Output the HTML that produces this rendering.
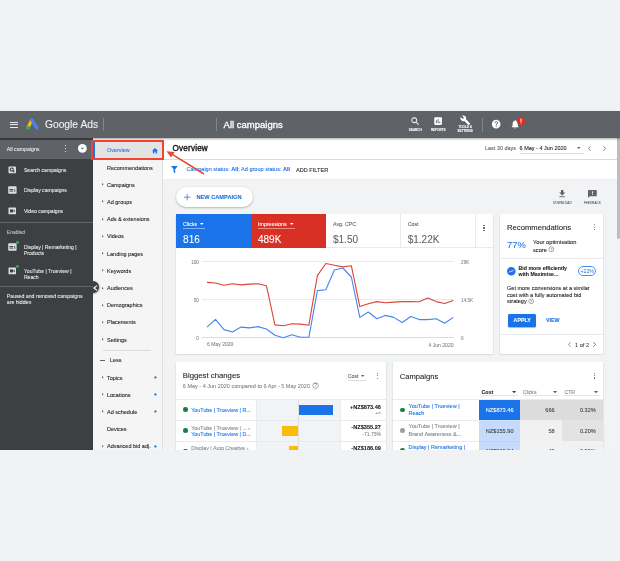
<!DOCTYPE html>
<html><head><meta charset="utf-8"><style>
html,body{margin:0;padding:0}
body{width:620px;height:561px;overflow:hidden;background:#f1f2f4;position:relative;font-family:"Liberation Sans",sans-serif}
body>div,body>svg,#app>div,#app>svg{position:absolute}
.t{white-space:nowrap;line-height:1;-webkit-text-stroke-width:0.08px}
svg{overflow:visible}
#app{position:absolute;left:0;top:0;width:620px;height:450.2px;overflow:hidden;will-change:transform}
</style></head><body><div id="app">
<div style="left:162.6px;top:137.7px;width:454.00px;height:312.60px;background:#f1f3f4"></div>
<div style="left:162.6px;top:137.7px;width:454.00px;height:21.60px;background:#fff"></div>
<div style="left:162.6px;top:159.3px;width:454.00px;height:0.60px;background:#dadce0"></div>
<div style="left:162.6px;top:159.9px;width:454.00px;height:18.90px;background:#fff"></div>
<div style="left:162.6px;top:178.8px;width:454.00px;height:0.80px;background:linear-gradient(#eaebed,#f1f3f4)"></div>
<div class="t" style="left:172.6px;top:145.33px;font-size:8.15px;color:#202124;-webkit-text-stroke:0.4px #202124;letter-spacing:0.18px">Overview</div>
<div class="t" style="left:485px;top:145.86px;font-size:5.47px;color:#5f6368;">Last 30 days</div>
<div class="t" style="left:519.6px;top:145.84px;font-size:5.51px;color:#202124;">6 May - 4 Jun 2020</div>
<div style="left:519.6px;top:153.4px;width:64.10px;height:0.50px;background:#dadce0"></div>
<svg style="left:577.2px;top:147px" width="3.6" height="2" viewBox="0 0 3.6 2"><path d="M0 0 H3.6 L1.8 2Z" fill="#5f6368"/></svg>
<svg style="left:587.8px;top:145.6px" width="3" height="5" viewBox="0 0 3 5"><path d="M2.6 0.3 L0.5 2.5 L2.6 4.7" fill="none" stroke="#5f6368" stroke-width="0.8"/></svg>
<svg style="left:603px;top:145.6px" width="3" height="5" viewBox="0 0 3 5"><path d="M0.4 0.3 L2.5 2.5 L0.4 4.7" fill="none" stroke="#5f6368" stroke-width="0.8"/></svg>
<svg style="left:171.4px;top:165.7px" width="6.8" height="7.2" viewBox="0 0 6.8 7.2"><path d="M0 0 H6.8 L4.2 3.2 V7.2 L2.6 6.2 V3.2Z" fill="#1a73e8"/></svg>
<div class="t" style="left:186.5px;top:167.03px;font-size:5.55px;color:#1a73e8;">Campaign status: <b>All</b>; Ad group status: <b>All</b></div>
<div class="t" style="left:296px;top:167.50px;font-size:5.6px;color:#3c4043;-webkit-text-stroke:0.15px #3c4043">ADD FILTER</div>
<div style="left:616.5px;top:137.7px;width:3.50px;height:312.80px;background:#f1f3f4"></div>
<div style="left:616.5px;top:137.7px;width:0.70px;height:41.30px;background:#ececec"></div>
<div style="left:616.9px;top:137.9px;width:3.10px;height:101.40px;background:#bdbdbd;border-radius:0 0 1.5px 1.5px"></div>
<div style="left:175.9px;top:187px;width:76.9px;height:19.7px;border-radius:10px;background:#fff;box-shadow:0 0.8px 2px rgba(60,64,67,.4)"></div>
<svg style="left:184.3px;top:193.6px" width="6.4" height="6.4" viewBox="0 0 6.4 6.4"><path d="M3.2 0 V6.4 M0 3.2 H6.4" stroke="#1a73e8" stroke-width="0.75"/></svg>
<div class="t" style="left:196.5px;top:194.78px;font-size:5.65px;color:#1a73e8;font-weight:bold">NEW CAMPAIGN</div>
<svg style="left:559.4px;top:190.3px" width="6.4" height="7.2" viewBox="0 0 6.4 7.2"><path d="M2 0 H4.4 V2.6 H6.2 L3.2 5.4 L0.2 2.6 H2Z" fill="#5f6368"/><rect x="0.4" y="6.3" width="5.6" height="0.9" fill="#5f6368"/></svg>
<div class="t" style="left:512.30px;width:100px;text-align:center;top:201.50px;font-size:3.2px;color:#5f6368;">DOWNLOAD</div>
<svg style="left:588px;top:189.7px" width="8.8" height="7.8" viewBox="0 0 8.8 7.8"><path d="M0.8 0 H8 Q8.8 0 8.8 0.8 V5.4 Q8.8 6.2 8 6.2 H2 L0 7.8 V0.8 Q0 0 0.8 0Z" fill="#5f6368"/><rect x="3.95" y="1.2" width="0.9" height="2.4" fill="#fff"/><rect x="3.95" y="4.2" width="0.9" height="0.9" fill="#fff"/></svg>
<div class="t" style="left:542.40px;width:100px;text-align:center;top:201.50px;font-size:3.2px;color:#5f6368;">FEEDBACK</div>
<div style="left:175.9px;top:213.7px;width:317.40px;height:140.80px;background:#fff;box-shadow:0 0.5px 1.5px rgba(60,64,67,.3)"></div>
<div style="left:175.9px;top:213.7px;width:74.80px;height:33.90px;background:#1a73e8"></div>
<div style="left:250.7px;top:213.7px;width:75.10px;height:33.90px;background:#d93025"></div>
<div style="left:400.4px;top:213.7px;width:0.60px;height:33.90px;background:#e8eaed"></div>
<div style="left:475.0px;top:213.7px;width:0.60px;height:33.90px;background:#e8eaed"></div>
<div style="left:325.8px;top:247.2px;width:167.50px;height:0.60px;background:#e8eaed"></div>
<div class="t" style="left:183.1px;top:222.25px;font-size:5.3px;color:#fff;">Clicks</div>
<svg style="left:199.6px;top:223.4px" width="3.6" height="2" viewBox="0 0 3.6 2"><path d="M0 0 H3.6 L1.8 2Z" fill="#fff"/></svg>
<div style="left:183.1px;top:228.1px;width:21.70px;height:0.45px;background:rgba(255,255,255,.45)"></div>
<div class="t" style="left:183.1px;top:235.30px;font-size:10.0px;color:#fff;">816</div>
<div class="t" style="left:258px;top:222.25px;font-size:5.3px;color:#fff;">Impressions</div>
<svg style="left:290.3px;top:223.4px" width="3.6" height="2" viewBox="0 0 3.6 2"><path d="M0 0 H3.6 L1.8 2Z" fill="#fff"/></svg>
<div style="left:258px;top:228.1px;width:37.20px;height:0.45px;background:rgba(255,255,255,.45)"></div>
<div class="t" style="left:258px;top:235.30px;font-size:10.0px;color:#fff;">489K</div>
<div class="t" style="left:333px;top:222.25px;font-size:5.3px;color:#5f6368;">Avg. CPC</div>
<div class="t" style="left:333px;top:234.70px;font-size:10.0px;color:#5f6368;">$1.50</div>
<div class="t" style="left:407.7px;top:222.25px;font-size:5.3px;color:#5f6368;">Cost</div>
<div class="t" style="left:407.7px;top:234.70px;font-size:10.0px;color:#5f6368;">$1.22K</div>
<div style="left:483.4px;top:225.00px;width:1.2px;height:1.2px;border-radius:50%;background:#5f6368"></div>
<div style="left:483.4px;top:227.40px;width:1.2px;height:1.2px;border-radius:50%;background:#5f6368"></div>
<div style="left:483.4px;top:229.80px;width:1.2px;height:1.2px;border-radius:50%;background:#5f6368"></div>
<div style="left:201.5px;top:261.2px;width:252.50px;height:0.60px;background:#ebebeb"></div>
<div style="left:201.5px;top:299.09999999999997px;width:252.50px;height:0.60px;background:#ebebeb"></div>
<div style="left:201.5px;top:337.1px;width:252.50px;height:0.60px;background:#dadce0"></div>
<div class="t" style="right:421.20px;top:260.70px;font-size:4.6px;color:#80868b;">100</div>
<div class="t" style="right:421.20px;top:298.60px;font-size:4.6px;color:#80868b;">50</div>
<div class="t" style="right:421.20px;top:336.60px;font-size:4.6px;color:#80868b;">0</div>
<div class="t" style="left:461.1px;top:261.10px;font-size:4.6px;color:#80868b;">29K</div>
<div class="t" style="left:461.1px;top:298.70px;font-size:4.6px;color:#80868b;">14.5K</div>
<div class="t" style="left:461.1px;top:336.50px;font-size:4.6px;color:#80868b;">0</div>
<div class="t" style="left:207px;top:342.48px;font-size:5.05px;color:#80868b;">6 May 2020</div>
<div class="t" style="right:166.50px;top:342.88px;font-size:5.05px;color:#80868b;">4 Jun 2020</div>
<svg style="left:0;top:0" width="620" height="561"><polyline points="207.00,282.40 215.49,283.00 223.98,285.20 232.47,283.80 240.96,284.90 249.45,284.10 257.94,283.80 266.43,285.70 274.92,324.90 283.41,325.70 291.90,323.80 300.39,324.10 308.88,325.20 317.37,275.60 325.86,263.50 334.35,265.20 342.84,266.90 351.33,265.70 359.82,306.60 368.31,303.80 376.80,301.60 385.29,302.70 393.78,302.10 402.27,301.60 410.76,301.60 419.25,301.80 427.74,297.90 436.23,301.60 444.72,303.50 453.21,300.40" fill="none" stroke="#db4437" stroke-width="1.1" stroke-linejoin="round"/><polyline points="207.00,327.10 215.49,319.40 223.98,329.60 232.47,332.00 240.96,327.10 249.45,327.90 257.94,326.60 266.43,329.00 274.92,335.30 283.41,337.80 291.90,334.80 300.39,337.30 308.88,337.30 317.37,290.60 325.86,289.80 334.35,270.00 342.84,268.00 351.33,277.00 359.82,317.40 368.31,312.00 376.80,318.80 385.29,315.40 393.78,317.40 402.27,322.50 410.76,316.50 419.25,319.60 427.74,319.60 436.23,318.80 444.72,323.30 453.21,317.40" fill="none" stroke="#4285f4" stroke-width="1.1" stroke-linejoin="round"/></svg>
<div style="left:499.7px;top:213.9px;width:103.50px;height:140.60px;background:#fff;box-shadow:0 0.5px 1.5px rgba(60,64,67,.3)"></div>
<div class="t" style="left:507px;top:223.65px;font-size:7.7px;color:#202124;">Recommendations</div>
<div style="left:593.5px;top:224.10px;width:1.2px;height:1.2px;border-radius:50%;background:#5f6368"></div>
<div style="left:593.5px;top:226.60px;width:1.2px;height:1.2px;border-radius:50%;background:#5f6368"></div>
<div style="left:593.5px;top:229.10px;width:1.2px;height:1.2px;border-radius:50%;background:#5f6368"></div>
<div class="t" style="left:507px;top:240.10px;font-size:9.4px;color:#1a73e8;">77%</div>
<div class="t" style="left:533px;top:240.05px;font-size:5.7px;color:#202124;">Your optimisation</div>
<div class="t" style="left:533px;top:248.05px;font-size:5.7px;color:#202124;">score</div>
<svg style="left:548.10px;top:246.00px" width="6.60" height="6.60" viewBox="-3.30 -3.30 6.60 6.60"><circle cx="0" cy="0" r="2.50" fill="none" stroke="#5f6368" stroke-width="0.55"/><text x="0" y="1.54" font-size="4.06" text-anchor="middle" fill="#5f6368" font-family="Liberation Sans">?</text></svg>
<div style="left:499.7px;top:257.8px;width:103.50px;height:0.60px;background:#e8eaed"></div>
<svg style="left:506.6px;top:266.7px" width="8.6" height="8.6" viewBox="0 0 8.6 8.6"><circle cx="4.3" cy="4.3" r="4.3" fill="#1a73e8"/><path d="M2 5.6 L3.6 3.8 L4.8 4.8 L6.6 2.8" fill="none" stroke="#fff" stroke-width="0.8"/></svg>
<div class="t" style="left:518.6px;top:265.89px;font-size:5.22px;color:#202124;font-weight:bold">Bid more efficiently</div>
<div class="t" style="left:518.6px;top:272.29px;font-size:5.22px;color:#202124;font-weight:bold">with Maximise...</div>
<div style="left:578px;top:265.6px;width:18.4px;height:10.8px;border:0.6px solid #4a8ff0;border-radius:5.4px;box-sizing:border-box"></div>
<div class="t" style="left:537.20px;width:100px;text-align:center;top:268.90px;font-size:5.2px;color:#1a73e8;-webkit-text-stroke-width:0">+22%</div>
<div class="t" style="left:507px;top:286.33px;font-size:5.55px;color:#202124;">Get more conversions at a similar</div>
<div class="t" style="left:507px;top:292.73px;font-size:5.55px;color:#202124;">cost with a fully automated bid</div>
<div class="t" style="left:507px;top:299.12px;font-size:5.55px;color:#202124;">strategy</div>
<svg style="left:528.10px;top:297.70px" width="6.40" height="6.40" viewBox="-3.20 -3.20 6.40 6.40"><circle cx="0" cy="0" r="2.40" fill="none" stroke="#5f6368" stroke-width="0.55"/><text x="0" y="1.49" font-size="3.92" text-anchor="middle" fill="#5f6368" font-family="Liberation Sans">?</text></svg>
<div style="left:508.4px;top:313.5px;width:27.6px;height:13.5px;border-radius:1.5px;background:#1a73e8;box-shadow:0 0.5px 1px rgba(0,0,0,.3)"></div>
<div class="t" style="left:472.20px;width:100px;text-align:center;top:318.15px;font-size:5.3px;color:#fff;font-weight:bold">APPLY</div>
<div class="t" style="left:502.80px;width:100px;text-align:center;top:318.15px;font-size:5.3px;color:#1a73e8;font-weight:bold">VIEW</div>
<div style="left:499.7px;top:334.3px;width:103.50px;height:0.60px;background:#e8eaed"></div>
<svg style="left:568.3px;top:341.8px" width="3" height="5" viewBox="0 0 3 5"><path d="M2.6 0.3 L0.5 2.5 L2.6 4.7" fill="none" stroke="#5f6368" stroke-width="0.7"/></svg>
<div class="t" style="left:575px;top:342.80px;font-size:5.6px;color:#3c4043;">1 of 2</div>
<svg style="left:593.4px;top:341.8px" width="3" height="5" viewBox="0 0 3 5"><path d="M0.4 0.3 L2.5 2.5 L0.4 4.7" fill="none" stroke="#3c4043" stroke-width="0.7"/></svg>
<div style="left:175.9px;top:362.1px;width:210.20px;height:89.90px;background:#fff;box-shadow:0 0.5px 1.5px rgba(60,64,67,.3)"></div>
<div class="t" style="left:182.8px;top:371.73px;font-size:7.75px;color:#202124;">Biggest changes</div>
<div class="t" style="left:182.8px;top:384.05px;font-size:5.5px;color:#80868b;">6 May - 4 Jun 2020 compared to 6 Apr - 5 May 2020</div>
<svg style="left:312.30px;top:382.10px" width="7.20" height="7.20" viewBox="-3.60 -3.60 7.20 7.20"><circle cx="0" cy="0" r="2.80" fill="none" stroke="#5f6368" stroke-width="0.55"/><text x="0" y="1.71" font-size="4.50" text-anchor="middle" fill="#5f6368" font-family="Liberation Sans">?</text></svg>
<div class="t" style="left:347.7px;top:373.65px;font-size:5.3px;color:#5f6368;">Cost</div>
<svg style="left:361.2px;top:375px" width="3.4" height="1.9" viewBox="0 0 3.4 1.9"><path d="M0 0 H3.4 L1.7 1.9Z" fill="#5f6368"/></svg>
<div style="left:347.7px;top:379.6px;width:18.30px;height:0.50px;background:#dadce0"></div>
<div style="left:376.50px;top:372.80px;width:1.2px;height:1.2px;border-radius:50%;background:#5f6368"></div>
<div style="left:376.50px;top:375.20px;width:1.2px;height:1.2px;border-radius:50%;background:#5f6368"></div>
<div style="left:376.50px;top:377.60px;width:1.2px;height:1.2px;border-radius:50%;background:#5f6368"></div>
<div style="left:175.9px;top:399.2px;width:210.20px;height:0.60px;background:#e8eaed"></div>
<div style="left:256.4px;top:399.8px;width:83.40px;height:52.20px;background:#f1f3f4"></div>
<div style="left:298.3px;top:399.8px;width:0.50px;height:52.20px;background:#e0e0e0"></div>
<div style="left:256.1px;top:399.8px;width:0.50px;height:52.20px;background:#e8eaed"></div>
<div style="left:339.6px;top:399.8px;width:0.50px;height:52.20px;background:#e8eaed"></div>
<div style="left:175.9px;top:420.4px;width:210.20px;height:0.60px;background:#e8eaed"></div>
<div style="left:175.9px;top:441.4px;width:210.20px;height:0.60px;background:#e8eaed"></div>
<div style="left:183.4px;top:407.4px;width:4.6px;height:4.6px;border-radius:50%;background:#188038"></div>
<div class="t" style="left:191.3px;top:408.02px;font-size:5.35px;color:#1a73e8;">YouTube | Trueview | R...</div>
<div style="left:183.4px;top:428px;width:4.6px;height:4.6px;border-radius:50%;background:#188038"></div>
<div class="t" style="left:191.3px;top:425.82px;font-size:5.35px;color:#80868b;">YouTube | Trueview | ... ›</div>
<div class="t" style="left:191.3px;top:432.02px;font-size:5.35px;color:#1a73e8;">YouTube | Trueview | D...</div>
<div style="left:183.4px;top:448.7px;width:4.6px;height:4.6px;border-radius:50%;background:#188038"></div>
<div class="t" style="left:191.3px;top:446.02px;font-size:5.35px;color:#80868b;">Display | Auto Creative ›</div>
<div style="left:298.5px;top:404.7px;width:34.10px;height:10.20px;background:#1a73e8"></div>
<div style="left:281.6px;top:425.5px;width:16.90px;height:10.10px;background:#fbbc04"></div>
<div style="left:288.8px;top:446.2px;width:9.70px;height:5.80px;background:#fbbc04"></div>
<div class="t" style="right:239.10px;top:404.90px;font-size:5.6px;color:#202124;font-weight:bold">+NZ$873.46</div>
<div class="t" style="right:239.10px;top:411.40px;font-size:4.2px;color:#80868b;">+∞</div>
<div class="t" style="right:239.10px;top:424.70px;font-size:5.6px;color:#202124;font-weight:bold">-NZ$355.27</div>
<div class="t" style="right:239.10px;top:431.80px;font-size:5.0px;color:#80868b;">-71.75%</div>
<div class="t" style="right:239.10px;top:445.80px;font-size:5.6px;color:#202124;font-weight:bold">-NZ$186.09</div>
<div style="left:393.1px;top:362.1px;width:210.00px;height:89.90px;background:#fff;box-shadow:0 0.5px 1.5px rgba(60,64,67,.3)"></div>
<div class="t" style="left:399.8px;top:373.00px;font-size:7.6px;color:#202124;">Campaigns</div>
<div style="left:594.00px;top:372.60px;width:1.2px;height:1.2px;border-radius:50%;background:#5f6368"></div>
<div style="left:594.00px;top:375.00px;width:1.2px;height:1.2px;border-radius:50%;background:#5f6368"></div>
<div style="left:594.00px;top:377.40px;width:1.2px;height:1.2px;border-radius:50%;background:#5f6368"></div>
<div class="t" style="left:481.6px;top:389.70px;font-size:5.2px;color:#202124;font-weight:bold">Cost</div>
<svg style="left:511.6px;top:390.6px" width="4.2" height="2.2" viewBox="0 0 4.2 2.2"><path d="M0 0 H4.2 L2.1 2.2Z" fill="#3c4043"/></svg>
<div style="left:481.6px;top:394.8px;width:36.40px;height:0.50px;background:#e3e5e8"></div>
<div class="t" style="left:522.7px;top:389.70px;font-size:5.2px;color:#80868b;">Clicks</div>
<svg style="left:553.1px;top:390.6px" width="4.2" height="2.2" viewBox="0 0 4.2 2.2"><path d="M0 0 H4.2 L2.1 2.2Z" fill="#5f6368"/></svg>
<div style="left:522.7px;top:394.8px;width:36.30px;height:0.50px;background:#e3e5e8"></div>
<div class="t" style="left:564.4px;top:389.70px;font-size:5.2px;color:#80868b;">CTR</div>
<svg style="left:594.2px;top:390.6px" width="4.2" height="2.2" viewBox="0 0 4.2 2.2"><path d="M0 0 H4.2 L2.1 2.2Z" fill="#5f6368"/></svg>
<div style="left:564.4px;top:394.8px;width:35.60px;height:0.50px;background:#e3e5e8"></div>
<div style="left:393.1px;top:399.0px;width:210.00px;height:0.60px;background:#e8eaed"></div>
<div style="left:479px;top:399.6px;width:41.30px;height:20.70px;background:#1a73e8"></div>
<div style="left:520.3px;top:399.6px;width:41.70px;height:20.70px;background:#dcdcdc"></div>
<div style="left:562px;top:399.6px;width:41.10px;height:20.70px;background:#dcdcdc"></div>
<div style="left:479px;top:420.3px;width:41.30px;height:21.00px;background:#c6dafc"></div>
<div style="left:520.3px;top:420.3px;width:41.70px;height:21.00px;background:#f1f1f1"></div>
<div style="left:562px;top:420.3px;width:41.10px;height:21.00px;background:#e3e3e3"></div>
<div style="left:479px;top:441.3px;width:41.30px;height:10.70px;background:#c6dafc"></div>
<div style="left:520.3px;top:441.3px;width:41.70px;height:10.70px;background:#f3f3f3"></div>
<div style="left:562px;top:441.3px;width:41.10px;height:10.70px;background:#f1f1f1"></div>
<div style="left:479px;top:420.1px;width:41.30px;height:0.40px;background:#d6e4fb"></div>
<div style="left:479px;top:441.1px;width:41.30px;height:0.40px;background:#bcd3f8"></div>
<div style="left:393.1px;top:420.0px;width:85.90px;height:0.60px;background:#e8eaed"></div>
<div style="left:393.1px;top:441.0px;width:85.90px;height:0.60px;background:#e8eaed"></div>
<div style="left:400.3px;top:407.5px;width:4.6px;height:4.6px;border-radius:50%;background:#188038"></div>
<div class="t" style="left:408.5px;top:403.95px;font-size:5.5px;color:#1a73e8;">YouTube | Trueview |</div>
<div class="t" style="left:408.5px;top:411.05px;font-size:5.5px;color:#1a73e8;">Reach</div>
<div style="left:400.3px;top:428.1px;width:4.6px;height:4.6px;border-radius:50%;background:#9aa0a6"></div>
<div class="t" style="left:408.5px;top:423.95px;font-size:5.5px;color:#80868b;">YouTube | Trueview |</div>
<div class="t" style="left:408.5px;top:431.75px;font-size:5.5px;color:#80868b;">Brand Awareness &amp;...</div>
<div style="left:400.3px;top:448.3px;width:4.6px;height:4.6px;border-radius:50%;background:#188038"></div>
<div class="t" style="left:408.5px;top:444.65px;font-size:5.5px;color:#1a73e8;">Display | Remarketing |</div>
<div class="t" style="right:106.50px;top:407.80px;font-size:5.6px;color:#fff;">NZ$873.46</div>
<div class="t" style="right:65.30px;top:407.80px;font-size:5.6px;color:#3c4043;">666</div>
<div class="t" style="right:24.20px;top:407.80px;font-size:5.6px;color:#3c4043;">0.32%</div>
<div class="t" style="right:106.50px;top:428.70px;font-size:5.6px;color:#3c4043;">NZ$155.90</div>
<div class="t" style="right:65.30px;top:428.70px;font-size:5.6px;color:#3c4043;">58</div>
<div class="t" style="right:24.20px;top:428.70px;font-size:5.6px;color:#3c4043;">0.20%</div>
<div class="t" style="right:106.50px;top:449.20px;font-size:5.6px;color:#3c4043;">NZ$115.54</div>
<div class="t" style="right:65.30px;top:449.20px;font-size:5.6px;color:#3c4043;">45</div>
<div class="t" style="right:24.20px;top:449.20px;font-size:5.6px;color:#3c4043;">0.55%</div>
<div style="left:93px;top:137.7px;width:69.60px;height:312.60px;background:#f5f5f5"></div>
<div style="left:93px;top:140.5px;width:69.60px;height:19.00px;background:#e3e3e3"></div>
<div style="left:93px;top:141.5px;width:2.00px;height:17.30px;background:#1a73e8"></div>
<div class="t" style="left:107px;top:147.88px;font-size:5.45px;color:#1a73e8;">Overview</div>
<svg style="left:151.5px;top:147.6px" width="6" height="5.6" viewBox="0 0 6 5.6"><path d="M3 0 L6 2.7 H5.1 V5.6 H3.7 V3.8 H2.3 V5.6 H0.9 V2.7 H0Z" fill="#1a73e8"/></svg>
<div class="t" style="left:107px;top:165.55px;font-size:5.5px;color:#202124;">Recommendations</div>
<div class="t" style="left:107px;top:182.75px;font-size:5.5px;color:#202124;">Campaigns</div>
<svg style="left:101.6px;top:183.20px" width="2" height="2.6" viewBox="0 0 2 2.6"><path d="M0 0 L1.6 1.3 L0 2.6Z" fill="#5f6368"/></svg>
<div class="t" style="left:107px;top:199.95px;font-size:5.5px;color:#202124;">Ad groups</div>
<svg style="left:101.6px;top:200.40px" width="2" height="2.6" viewBox="0 0 2 2.6"><path d="M0 0 L1.6 1.3 L0 2.6Z" fill="#5f6368"/></svg>
<div class="t" style="left:107px;top:217.15px;font-size:5.5px;color:#202124;">Ads &amp; extensions</div>
<svg style="left:101.6px;top:217.60px" width="2" height="2.6" viewBox="0 0 2 2.6"><path d="M0 0 L1.6 1.3 L0 2.6Z" fill="#5f6368"/></svg>
<div class="t" style="left:107px;top:234.35px;font-size:5.5px;color:#202124;">Videos</div>
<svg style="left:101.6px;top:234.80px" width="2" height="2.6" viewBox="0 0 2 2.6"><path d="M0 0 L1.6 1.3 L0 2.6Z" fill="#5f6368"/></svg>
<div class="t" style="left:107px;top:251.65px;font-size:5.5px;color:#202124;">Landing pages</div>
<svg style="left:101.6px;top:252.10px" width="2" height="2.6" viewBox="0 0 2 2.6"><path d="M0 0 L1.6 1.3 L0 2.6Z" fill="#5f6368"/></svg>
<div class="t" style="left:107px;top:268.85px;font-size:5.5px;color:#202124;">Keywords</div>
<svg style="left:101.6px;top:269.30px" width="2" height="2.6" viewBox="0 0 2 2.6"><path d="M0 0 L1.6 1.3 L0 2.6Z" fill="#5f6368"/></svg>
<div class="t" style="left:107px;top:286.05px;font-size:5.5px;color:#202124;">Audiences</div>
<svg style="left:101.6px;top:286.50px" width="2" height="2.6" viewBox="0 0 2 2.6"><path d="M0 0 L1.6 1.3 L0 2.6Z" fill="#5f6368"/></svg>
<div class="t" style="left:107px;top:303.25px;font-size:5.5px;color:#202124;">Demographics</div>
<svg style="left:101.6px;top:303.70px" width="2" height="2.6" viewBox="0 0 2 2.6"><path d="M0 0 L1.6 1.3 L0 2.6Z" fill="#5f6368"/></svg>
<div class="t" style="left:107px;top:320.35px;font-size:5.5px;color:#202124;">Placements</div>
<svg style="left:101.6px;top:320.80px" width="2" height="2.6" viewBox="0 0 2 2.6"><path d="M0 0 L1.6 1.3 L0 2.6Z" fill="#5f6368"/></svg>
<div class="t" style="left:107px;top:337.55px;font-size:5.5px;color:#202124;">Settings</div>
<svg style="left:101.6px;top:338.00px" width="2" height="2.6" viewBox="0 0 2 2.6"><path d="M0 0 L1.6 1.3 L0 2.6Z" fill="#5f6368"/></svg>
<div class="t" style="left:107px;top:375.55px;font-size:5.5px;color:#202124;">Topics</div>
<svg style="left:101.6px;top:376.00px" width="2" height="2.6" viewBox="0 0 2 2.6"><path d="M0 0 L1.6 1.3 L0 2.6Z" fill="#5f6368"/></svg>
<svg style="left:154px;top:375.90px" width="2.8" height="2.8" viewBox="0 0 2.8 2.8"><path d="M1.4 0 L2.8 1.4 L1.4 2.8 L0 1.4Z" fill="#1a73e8"/></svg>
<div class="t" style="left:107px;top:392.75px;font-size:5.5px;color:#202124;">Locations</div>
<svg style="left:101.6px;top:393.20px" width="2" height="2.6" viewBox="0 0 2 2.6"><path d="M0 0 L1.6 1.3 L0 2.6Z" fill="#5f6368"/></svg>
<svg style="left:154px;top:393.10px" width="2.8" height="2.8" viewBox="0 0 2.8 2.8"><path d="M1.4 0 L2.8 1.4 L1.4 2.8 L0 1.4Z" fill="#1a73e8"/></svg>
<div class="t" style="left:107px;top:409.95px;font-size:5.5px;color:#202124;">Ad schedule</div>
<svg style="left:101.6px;top:410.40px" width="2" height="2.6" viewBox="0 0 2 2.6"><path d="M0 0 L1.6 1.3 L0 2.6Z" fill="#5f6368"/></svg>
<svg style="left:154px;top:410.30px" width="2.8" height="2.8" viewBox="0 0 2.8 2.8"><path d="M1.4 0 L2.8 1.4 L1.4 2.8 L0 1.4Z" fill="#1a73e8"/></svg>
<div class="t" style="left:107px;top:427.15px;font-size:5.5px;color:#202124;">Devices</div>
<div class="t" style="left:107px;top:444.35px;font-size:5.5px;color:#202124;">Advanced bid adj.</div>
<svg style="left:101.6px;top:444.80px" width="2" height="2.6" viewBox="0 0 2 2.6"><path d="M0 0 L1.6 1.3 L0 2.6Z" fill="#5f6368"/></svg>
<svg style="left:154px;top:444.70px" width="2.8" height="2.8" viewBox="0 0 2.8 2.8"><path d="M1.4 0 L2.8 1.4 L1.4 2.8 L0 1.4Z" fill="#1a73e8"/></svg>
<div style="left:103.2px;top:350.2px;width:48.20px;height:0.60px;background:#dadce0"></div>
<div style="left:100px;top:359.7px;width:4.80px;height:1.10px;background:#5f6368"></div>
<div class="t" style="left:110px;top:357.95px;font-size:5.5px;color:#202124;">Less</div>
<div style="left:87.1px;top:281.1px;width:11.9px;height:11.9px;border-radius:50%;background:#3c4043;box-shadow:0.6px 0.8px 1.6px rgba(0,0,0,.35)"></div>
<div style="left:161.8px;top:159.5px;width:1.00px;height:291.00px;background:#e0e0e0"></div>
<div style="left:0px;top:137.7px;width:93.00px;height:312.60px;background:#3c4043"></div>
<div style="left:0px;top:137.7px;width:93.00px;height:1.80px;background:#4a4e52"></div>
<div style="left:0px;top:139.5px;width:93.00px;height:19.50px;background:#5f6368"></div>
<div class="t" style="left:6.8px;top:146.97px;font-size:5.25px;color:#e8eaed;">All campaigns</div>
<div style="left:64.7px;top:144.85px;width:1.3px;height:1.3px;border-radius:50%;background:#fff"></div>
<div style="left:64.7px;top:147.75px;width:1.3px;height:1.3px;border-radius:50%;background:#fff"></div>
<div style="left:64.7px;top:150.65px;width:1.3px;height:1.3px;border-radius:50%;background:#fff"></div>
<svg style="left:78px;top:144px" width="8.8" height="8.8" viewBox="0 0 8.8 8.8"><circle cx="4.4" cy="4.4" r="4.4" fill="#fff"/><path d="M2.7 3.8 L4.4 5.5 L6.1 3.8Z" fill="#5f6368"/></svg>
<svg style="left:7.6px;top:165.5px" width="8.5" height="7.8" viewBox="0 0 8.5 7.8"><rect x="0.5" y="0.5" width="7.5" height="6.8" rx="0.6" fill="#dadce0"/><circle cx="3.8" cy="3.5" r="1.55" fill="none" stroke="#3c4043" stroke-width="1.05"/><path d="M4.9 4.6 L6.3 6" stroke="#3c4043" stroke-width="1.1"/></svg>
<div class="t" style="left:23.9px;top:167.83px;font-size:5.14px;color:#e8eaed;">Search campaigns</div>
<svg style="left:7.6px;top:186.2px" width="8.8" height="8" viewBox="0 0 8.8 8"><rect x="0.2" y="0.3" width="8.4" height="7.5" rx="0.8" fill="#dadce0"/><rect x="1.5" y="3.0" width="3.65" height="0.95" fill="#3c4043"/><rect x="1.5" y="4.6" width="3.65" height="0.95" fill="#3c4043"/><rect x="6.4" y="3.1" width="0.8" height="2.7" fill="#3c4043"/></svg>
<div class="t" style="left:23.9px;top:188.43px;font-size:5.14px;color:#e8eaed;">Display campaigns</div>
<svg style="left:7.6px;top:206.6px" width="8.5" height="7.8" viewBox="0 0 8.5 7.8"><rect x="0.5" y="0.5" width="7.5" height="6.8" rx="0.6" fill="#dadce0"/><rect x="2" y="2.4" width="3" height="3" fill="#3c4043"/><path d="M5 3.9 L6.6 2.6 V5.2Z" fill="#3c4043"/></svg>
<div class="t" style="left:23.9px;top:208.93px;font-size:5.14px;color:#e8eaed;">Video campaigns</div>
<div style="left:0px;top:221.8px;width:93.00px;height:0.80px;background:#5f6368"></div>
<div class="t" style="left:6.8px;top:229.50px;font-size:5.0px;color:#bdc1c6;">Enabled</div>
<svg style="left:7.6px;top:242.7px" width="8.8" height="8" viewBox="0 0 8.8 8"><rect x="0.2" y="0.3" width="8.4" height="7.5" rx="0.8" fill="#dadce0"/><rect x="1.5" y="3.0" width="3.65" height="0.95" fill="#3c4043"/><rect x="1.5" y="4.6" width="3.65" height="0.95" fill="#3c4043"/><rect x="6.4" y="3.1" width="0.8" height="2.7" fill="#3c4043"/></svg>
<div style="left:16.1px;top:241.2px;width:2.8px;height:2.8px;border-radius:50%;background:#34a853"></div>
<div class="t" style="left:23.9px;top:244.63px;font-size:5.14px;color:#e8eaed;">Display | Remarketing |</div>
<div class="t" style="left:23.9px;top:251.43px;font-size:5.14px;color:#e8eaed;">Products</div>
<svg style="left:7.6px;top:266.5px" width="8.5" height="7.8" viewBox="0 0 8.5 7.8"><rect x="0.5" y="0.5" width="7.5" height="6.8" rx="0.6" fill="#dadce0"/><rect x="2" y="2.4" width="3" height="3" fill="#3c4043"/><path d="M5 3.9 L6.6 2.6 V5.2Z" fill="#3c4043"/></svg>
<div style="left:16.1px;top:265.4px;width:2.8px;height:2.8px;border-radius:50%;background:#34a853"></div>
<div class="t" style="left:23.9px;top:268.93px;font-size:5.14px;color:#e8eaed;">YouTube | Trueview |</div>
<div class="t" style="left:23.9px;top:275.23px;font-size:5.14px;color:#e8eaed;">Reach</div>
<div style="left:0px;top:285.6px;width:93.00px;height:0.80px;background:#5f6368"></div>
<div class="t" style="left:6.8px;top:294.00px;font-size:5.2px;color:#e8eaed;">Paused and removed campaigns</div>
<div class="t" style="left:6.8px;top:300.30px;font-size:5.2px;color:#e8eaed;">are hidden</div>
<div style="left:0px;top:110.6px;width:620.00px;height:27.10px;background:#5f6368;box-shadow:0 0.8px 2px rgba(0,0,0,.35)"></div>
<div style="left:9.8px;top:121.6px;width:7.90px;height:1.10px;background:#e8eaed"></div>
<div style="left:9.8px;top:124.3px;width:7.90px;height:1.10px;background:#e8eaed"></div>
<div style="left:9.8px;top:127.0px;width:7.90px;height:1.10px;background:#e8eaed"></div>
<svg style="left:24px;top:116px" width="16" height="15" viewBox="0 0 16 15"><path d="M7.8 3.9 L3.9 11.7" stroke="#fbbc04" stroke-width="3.2"/><circle cx="3.9" cy="11.7" r="2.05" fill="#34a853"/><path d="M7.8 3.9 L12.9 11.9" stroke="#4285f4" stroke-width="3.3" stroke-linecap="round"/></svg>
<div class="t" style="left:44.9px;top:119.65px;font-size:10.3px;color:#f1f3f4;">Google Ads</div>
<div style="left:103px;top:117.5px;width:1.00px;height:13.50px;background:#80868b"></div>
<div style="left:215.5px;top:117.5px;width:1.00px;height:13.50px;background:#80868b"></div>
<div class="t" style="left:223.6px;top:120.05px;font-size:9.5px;color:#ffffff;-webkit-text-stroke:0.3px #fff">All campaigns</div>
<svg style="left:409.6px;top:115.9px" width="10.7" height="10.7" viewBox="0 0 24 24"><path d="M15.5 14h-.79l-.28-.27C15.41 12.59 16 11.11 16 9.5 16 5.91 13.09 3 9.5 3S3 5.91 3 9.5 5.91 16 9.5 16c1.61 0 3.090-.59 4.23-1.57l.27.28v.79l5 4.99L20.49 19l-4.99-5zm-6 0C7.01 14 5 11.99 5 9.5S7.01 5 9.5 5 14 7.01 14 9.5 11.99 14 9.5 14z" fill="#fff"/></svg>
<div class="t" style="left:365.30px;width:100px;text-align:center;top:128.67px;font-size:3.05px;color:#fff;font-weight:bold">SEARCH</div>
<svg style="left:433.3px;top:115.8px" width="10.2" height="10.2" viewBox="0 0 24 24"><path d="M19 3H5c-1.1 0-2 .9-2 2v14c0 1.1.9 2 2 2h14c1.1 0 2-.9 2-2V5c0-1.1-.9-2-2-2zM9 17H7v-7h2v7zm4 0h-2V7h2v10zm4 0h-2v-4h2v4z" fill="#fff"/></svg>
<div class="t" style="left:388.30px;width:100px;text-align:center;top:128.67px;font-size:3.05px;color:#fff;font-weight:bold">REPORTS</div>
<svg style="left:459.9px;top:114.8px" width="10.6" height="10.6" viewBox="0 0 24 24"><path d="M22.7 19l-9.1-9.1c.9-2.3.4-5-1.5-6.9-2-2-5-2.4-7.4-1.3L9 6 6 9 1.6 4.7C.4 7.1.9 10.1 2.9 12.1c1.9 1.9 4.6 2.4 6.9 1.5l9.1 9.1c.4.4 1 .4 1.4 0l2.3-2.3c.5-.4.5-1.1.1-1.4z" fill="#fff"/></svg>
<div class="t" style="left:415.20px;width:100px;text-align:center;top:126.17px;font-size:3.05px;color:#fff;font-weight:bold">TOOLS &amp;</div>
<div class="t" style="left:415.20px;width:100px;text-align:center;top:130.38px;font-size:3.05px;color:#fff;font-weight:bold">SETTINGS</div>
<div style="left:482px;top:118px;width:1.00px;height:13.50px;background:#80868b"></div>
<svg style="left:491.4px;top:119.2px" width="10.4" height="10.4" viewBox="0 0 24 24"><path d="M12 2C6.48 2 2 6.48 2 12s4.48 10 10 10 10-4.48 10-10S17.52 2 12 2zm1 17h-2v-2h2v2zm2.07-7.75l-.9.92C13.45 12.9 13 13.5 13 15h-2v-.5c0-1.1.45-2.1 1.17-2.830l1.24-1.26c.37-.36.59-.86.59-1.41 0-1.1-.9-2-2-2s-2 .9-2 2H8c0-2.21 1.79-4 4-4s4 1.79 4 4c0 .88-.36 1.680-.93 2.25z" fill="#fff"/></svg>
<svg style="left:510.4px;top:119.1px" width="10.4" height="10.4" viewBox="0 0 24 24"><path d="M12 22c1.1 0 2-.9 2-2h-4c0 1.1.89 2 2 2zm6-6v-5c0-3.07-1.64-5.64-4.5-6.32V4c0-.83-.67-1.5-1.5-1.5s-1.5.67-1.5 1.5v.68C7.63 5.36 6 7.92 6 11v5l-2 2v1h16v-1l-2-2z" fill="#fff"/></svg>
<svg style="left:516.8px;top:117.1px" width="8" height="8" viewBox="0 0 8 8"><circle cx="4" cy="4" r="4" fill="#d93025"/><rect x="3.5" y="1.7" width="1" height="3.1" fill="#fff"/><rect x="3.5" y="5.4" width="1" height="1" fill="#fff"/></svg>
<div style="left:91px;top:139.9px;width:72.7px;height:20.2px;border:2px solid #ee4430;box-sizing:border-box"></div>
<svg style="left:93px;top:284.5px" width="4.6" height="6" viewBox="0 0 4.6 6"><path d="M4 0.6 L0.9 3 L4 5.4" fill="none" stroke="#fff" stroke-width="1.2"/></svg>
<svg style="left:0;top:0" width="620" height="561"><path d="M204 174 L171 153.6" stroke="#ee4430" stroke-width="1.5"/><path d="M166.6 151.2 L174.6 152.0 L171.0 157.4Z" fill="#ee4430"/></svg>
</div></body></html>
